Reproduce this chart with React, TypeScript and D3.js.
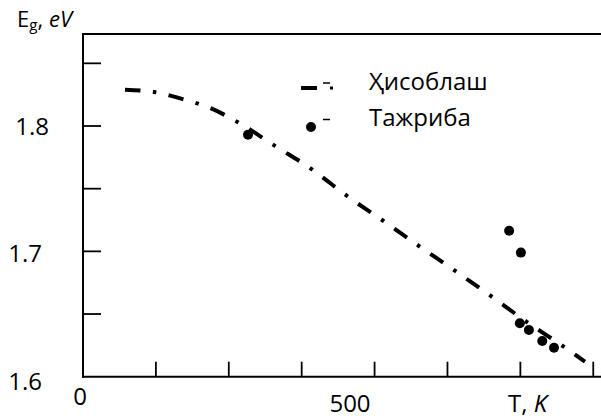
import React from "react";
import * as d3 from "d3";

// Calculated curve (Ҳисоблаш): temperature, K and band gap, eV
const CALC_T = [78.6, 135, 190, 240, 290, 360, 430, 495, 560, 630, 695, 765, 830, 900, 940];
const CALC_E = [1.829, 1.827, 1.821, 1.814, 1.803, 1.784, 1.765, 1.744, 1.725, 1.704, 1.685, 1.664, 1.644, 1.624, 1.612];

// Experimental points (Тажриба)
const EXP_T = [309, 798, 820, 818, 835, 860, 882];
const EXP_E = [1.793, 1.7165, 1.699, 1.6426, 1.6373, 1.6285, 1.6231];

const X_TICK_STEP = 136.5;
const X_TICK_COUNT = 7;
const X_LABELS = [0, 500];
const Y_TICKS = [1.65, 1.7, 1.75, 1.8, 1.85];
const Y_LABELS = [1.8, 1.7, 1.6];
const LEGEND = ["Ҳисоблаш", "Тажриба"];

const W = 601;
const H = 419;
const FONT = "'Open Sans', 'Noto Sans', sans-serif";

export default function App() {
  const x = d3.scaleLinear().domain([0, 970]).range([83, 601]);
  const y = d3.scaleLinear().domain([1.6, 1.8734]).range([376.7, 34]);

  const calc = CALC_T.map((t, i) => [t, CALC_E[i]] as [number, number]);
  const exp = EXP_T.map((t, i) => [t, EXP_E[i]] as [number, number]);

  const line = d3
    .line<[number, number]>()
    .x((d) => x(d[0]))
    .y((d) => y(d[1]))
    .curve(d3.curveMonotoneX);

  const xTicks = d3.range(1, X_TICK_COUNT + 1).map((i) => i * X_TICK_STEP);
  const x0 = x(0);
  const yBottom = y(1.6);
  const yTop = y.range()[1];

  return (
    <div style={{ position: "fixed", left: 0, top: 0 }}>
      <svg width={W} height={H} style={{ display: "block", background: "#fff" }} fontFamily={FONT}>
        {/* frame */}
        <line x1={x0} x2={W} y1={yTop} y2={yTop} stroke="#000" strokeWidth={2} />
        <line x1={x0} x2={x0} y1={yTop - 1} y2={yBottom + 1} stroke="#000" strokeWidth={2} />
        <line x1={x0 - 1} x2={W} y1={yBottom} y2={yBottom} stroke="#000" strokeWidth={2} />

        {/* x ticks */}
        {xTicks.map((t) => (
          <line key={t} x1={x(t)} x2={x(t)} y1={yBottom} y2={yBottom - 15} stroke="#000" strokeWidth={1.8} />
        ))}
        {/* y ticks */}
        {Y_TICKS.map((v) => (
          <line key={v} x1={x0} x2={x0 + 18} y1={y(v)} y2={y(v)} stroke="#000" strokeWidth={1.8} />
        ))}

        {/* x labels */}
        {X_LABELS.map((v, i) => (
          <text key={v} x={x(v) - (i === 0 ? 3 : 0)} y={i === 0 ? 405 : 412} textAnchor="middle" fontSize={24}>
            {String(v)}
          </text>
        ))}
        <text x={508} y={412} fontSize={24}>
          T, <tspan fontStyle="italic">K</tspan>
        </text>

        {/* y labels */}
        {Y_LABELS.map((v, i) => (
          <text key={v} x={i === 0 ? 49 : 42} y={y(v) + 9 + i * 2} textAnchor="end" fontSize={24}>
            {v.toFixed(1)}
          </text>
        ))}
        <text x={17} y={27} fontSize={22}>
          E<tspan fontSize={15} dy={3}>g</tspan>
          <tspan dy={-3}>,</tspan>
          <tspan dx={6} fontStyle="italic">eV</tspan>
        </text>

        {/* calculated curve */}
        <path
          d={line(calc) || ""}
          fill="none"
          stroke="#000"
          strokeWidth={4}
          strokeDasharray="15.5,12.5,3.5,12.5"
        />

        {/* experimental points */}
        {exp.map((d, i) => (
          <circle key={i} cx={x(d[0])} cy={y(d[1])} r={5} fill="#000" />
        ))}

        {/* legend */}
        <line x1={301} x2={317} y1={88} y2={88} stroke="#000" strokeWidth={4} />
        <line x1={323} x2={330} y1={83} y2={83} stroke="#000" strokeWidth={1.5} />
        <rect x={330} y={86.5} width={3} height={3} fill="#000" />
        <text x={369} y={90} fontSize={24}>
          {LEGEND[0]}
        </text>
        <circle cx={311} cy={127} r={5} fill="#000" />
        <line x1={323} x2={330} y1={119.5} y2={119.5} stroke="#000" strokeWidth={1.5} />
        <text x={369} y={126} fontSize={24}>
          {LEGEND[1]}
        </text>
      </svg>
    </div>
  );
}
